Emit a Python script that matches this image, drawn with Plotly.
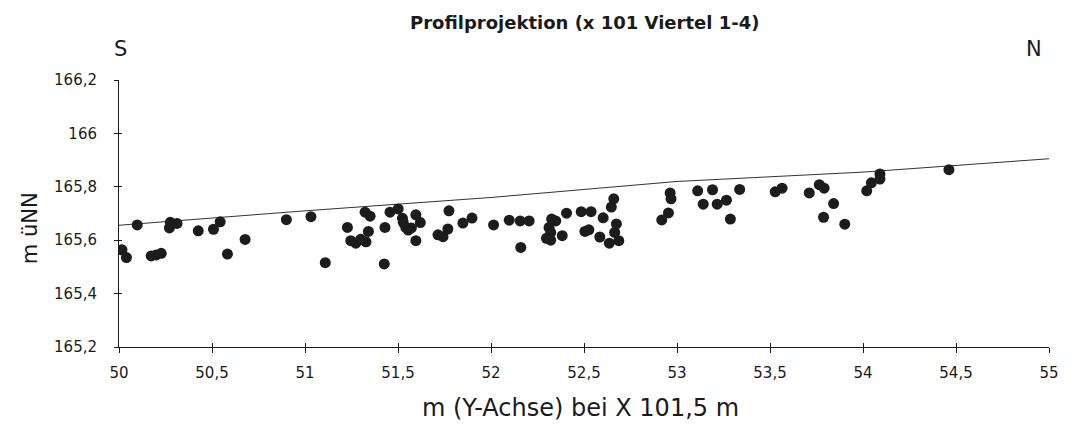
import plotly.graph_objects as go

# Ground surface profile line
surface_x = [50, 51, 52, 53, 54, 55]
surface_y = [165.656, 165.71, 165.76, 165.82, 165.855, 165.905]

# Projected finds (m along Y axis, m above sea level)
points_x = [50.016, 50.040, 50.098, 50.173, 50.200, 50.227, 50.276, 50.271, 50.312, 50.426,
            50.508, 50.544, 50.583, 50.678, 50.900, 51.032, 51.109, 51.228, 51.246, 51.273,
            51.300, 51.328, 51.323, 51.350, 51.341, 51.430, 51.426, 51.457, 51.501, 51.524,
            51.528, 51.542, 51.555, 51.572, 51.596, 51.620, 51.596, 51.715, 51.742, 51.768,
            51.774, 51.849, 51.898, 52.014, 52.098, 52.157, 52.205, 52.160, 52.326, 52.348,
            52.312, 52.321, 52.298, 52.321, 52.383, 52.406, 52.485, 52.538, 52.505, 52.526,
            52.585, 52.603, 52.636, 52.660, 52.647, 52.674, 52.665, 52.687, 52.963, 52.968,
            52.954, 52.918, 53.111, 53.141, 53.191, 53.216, 53.266, 53.287, 53.337, 53.528,
            53.565, 53.711, 53.765, 53.791, 53.842, 53.788, 53.902, 54.020, 54.045, 54.091,
            54.091, 54.462]
points_y = [165.564, 165.535, 165.657, 165.541, 165.545, 165.551, 165.667, 165.646, 165.663, 165.635,
            165.641, 165.669, 165.548, 165.603, 165.677, 165.688, 165.516, 165.648, 165.598, 165.589,
            165.604, 165.594, 165.705, 165.690, 165.633, 165.648, 165.511, 165.705, 165.717, 165.682,
            165.667, 165.648, 165.638, 165.646, 165.695, 165.666, 165.598, 165.620, 165.613, 165.642,
            165.710, 165.664, 165.683, 165.657, 165.675, 165.672, 165.672, 165.573, 165.679, 165.672,
            165.648, 165.629, 165.607, 165.600, 165.617, 165.701, 165.707, 165.707, 165.633, 165.639,
            165.612, 165.684, 165.589, 165.755, 165.724, 165.661, 165.629, 165.598, 165.777, 165.755,
            165.702, 165.676, 165.785, 165.735, 165.789, 165.735, 165.750, 165.679, 165.790, 165.781,
            165.795, 165.777, 165.808, 165.795, 165.737, 165.686, 165.660, 165.785, 165.815, 165.848,
            165.829, 165.864]

x_ticks = [50, 50.5, 51, 51.5, 52, 52.5, 53, 53.5, 54, 54.5, 55]
y_ticks = [165.2, 165.4, 165.6, 165.8, 166.0, 166.2]

FONT = "DejaVu Sans"
INK = "#1a1a1a"

fig = go.Figure()
fig.add_trace(go.Scatter(x=surface_x, y=surface_y, mode="lines",
                         line=dict(color="#333333", width=1), hoverinfo="skip"))
fig.add_trace(go.Scatter(x=points_x, y=points_y, mode="markers",
                         marker=dict(color="#1c1c1c", size=11, line=dict(width=0))))
# invisible trace on overlay axes that draw the inner half of the crossing ticks
fig.add_trace(go.Scatter(x=[50], y=[165.2], xaxis="x2", yaxis="y2", mode="markers",
                         marker=dict(opacity=0), hoverinfo="skip"))

fig.update_layout(
    width=1071, height=429, autosize=False,
    margin=dict(l=119, r=18, t=80, b=82),
    paper_bgcolor="white", plot_bgcolor="white",
    showlegend=False, separators=",.",
    font=dict(family=FONT, color=INK, size=15),
    xaxis=dict(range=[50, 55], tickvals=x_ticks, showgrid=False, zeroline=False,
               showline=True, linecolor=INK, linewidth=1,
               ticks="outside", ticklen=5, tickcolor=INK,
               tickfont=dict(family=FONT, size=15), ticklabelstandoff=7),
    yaxis=dict(range=[165.2, 166.2], tickvals=y_ticks, showgrid=False, zeroline=False,
               showline=True, linecolor=INK, linewidth=1,
               ticks="outside", ticklen=4, tickcolor=INK,
               tickfont=dict(family=FONT, size=15), ticklabelstandoff=14),
    xaxis2=dict(overlaying="x", matches="x", range=[50, 55], tickvals=x_ticks,
                showgrid=False, zeroline=False, showline=False, showticklabels=False,
                ticks="inside", ticklen=4, tickcolor=INK, side="bottom"),
    yaxis2=dict(overlaying="y", matches="y", range=[165.2, 166.2], tickvals=y_ticks,
                showgrid=False, zeroline=False, showline=False, showticklabels=False,
                ticks="inside", ticklen=3, tickcolor=INK, side="left"),
    annotations=[
        dict(text="<b>Profilprojektion (x 101 Viertel 1-4)</b>", xref="paper", yref="paper",
             x=0.5, y=1, yshift=58, xanchor="center", yanchor="middle", showarrow=False,
             font=dict(family=FONT, size=18)),
        dict(text="S", xref="x", yref="paper", x=50.01, y=1, yshift=31,
             xanchor="center", yanchor="middle", showarrow=False,
             font=dict(family=FONT, size=21)),
        dict(text="N", xref="x", yref="paper", x=54.92, y=1, yshift=31,
             xanchor="center", yanchor="middle", showarrow=False,
             font=dict(family=FONT, size=21)),
        dict(text="m (Y-Achse) bei X 101,5 m", xref="x", yref="paper", x=52.48, y=0, yshift=-61,
             xanchor="center", yanchor="middle", showarrow=False,
             font=dict(family=FONT, size=24)),
        dict(text="m üNN", xref="paper", yref="y", x=0, xshift=-89, y=165.645,
             xanchor="center", yanchor="middle", showarrow=False, textangle=-90,
             font=dict(family=FONT, size=21)),
    ],
)

fig.write_html("out.html")
